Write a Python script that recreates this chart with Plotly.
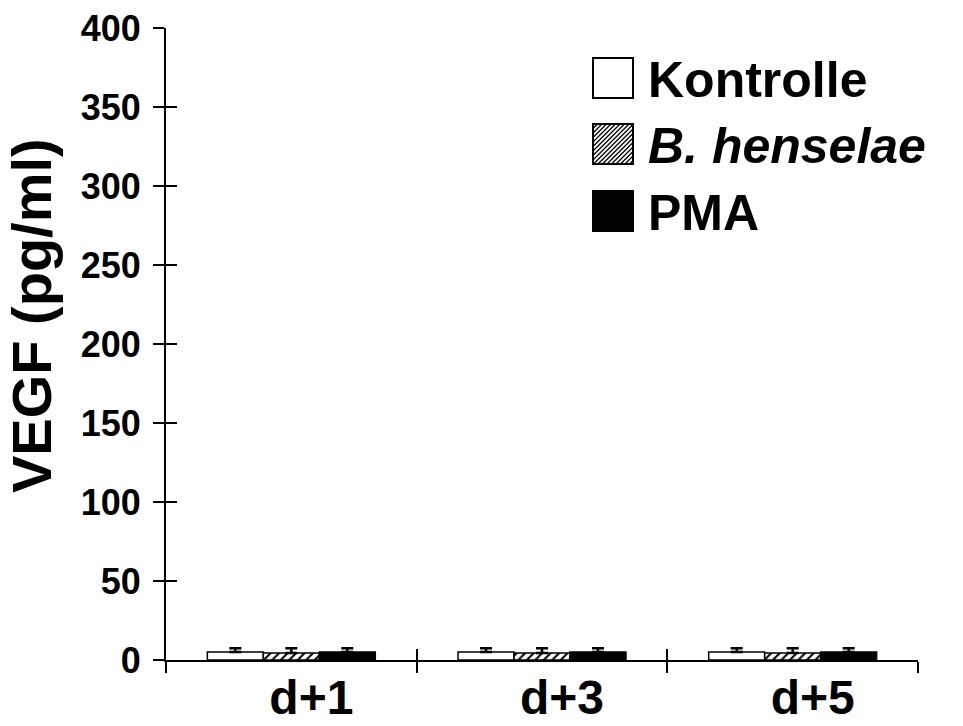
import plotly.graph_objects as go

# ---- data ----
categories = ["d+1", "d+3", "d+5"]
series_names = ["Kontrolle", "B. henselae", "PMA"]
kontrolle = [5.0, 5.0, 5.0]
henselae = [4.5, 4.5, 4.5]
pma = [5.0, 5.0, 5.0]
kontrolle_err = [2.5, 2.5, 2.5]
henselae_err = [3.0, 3.0, 3.0]
pma_err = [2.5, 2.5, 2.5]
y_ticks = [0, 50, 100, 150, 200, 250, 300, 350, 400]

FONT = "Liberation Sans, Arial, Helvetica, sans-serif"
W, H = 963, 726
L, R, T, B = 166, 918, 28, 660


def px(x):
    return (x - L) / (R - L)


def py(y):
    return (B - y) / (B - T)


fig = go.Figure()
zero = [0, 0, 0]
fig.add_trace(go.Bar(
    x=categories, y=kontrolle, name=series_names[0],
    marker=dict(color="white", line=dict(color="black", width=1.5)),
    error_y=dict(type="data", symmetric=False, array=kontrolle_err, arrayminus=zero,
                 color="black", thickness=2.5, width=6)))
fig.add_trace(go.Bar(
    x=categories, y=henselae, name=series_names[1],
    marker=dict(color="white", line=dict(color="black", width=1.5),
                pattern=dict(shape="/", fgcolor="black", bgcolor="white", size=6, solidity=0.35)),
    error_y=dict(type="data", symmetric=False, array=henselae_err, arrayminus=zero,
                 color="black", thickness=2.5, width=6)))
fig.add_trace(go.Bar(
    x=categories, y=pma, name=series_names[2],
    marker=dict(color="black", line=dict(color="black", width=1.5)),
    error_y=dict(type="data", symmetric=False, array=pma_err, arrayminus=zero,
                 color="black", thickness=2.5, width=6)))

# invisible trace on overlay axes (for crossing tick marks)
fig.add_trace(go.Scatter(x=categories, y=kontrolle, xaxis="x2", yaxis="y2",
                         mode="markers", marker=dict(opacity=0), showlegend=False,
                         hoverinfo="skip"))

fig.update_layout(
    template="none",
    width=W, height=H,
    margin=dict(l=L, r=W - R, t=T, b=H - B, pad=0, autoexpand=False),
    paper_bgcolor="white", plot_bgcolor="white",
    showlegend=False,
    barmode="group", bargap=0.33, bargroupgap=0,
    font=dict(family=FONT, color="black"),
    xaxis=dict(type="category", range=[-0.5, 2.5], showline=True, linecolor="black",
               linewidth=2, ticks="outside", tickson="boundaries", ticklen=11,
               tickwidth=2, tickcolor="black", showgrid=False, zeroline=False,
               automargin=False,
               tickfont=dict(family=FONT, size=48, weight="bold", color="black"),
               ticklabelshift=20, ticklabelstandoff=-6),
    yaxis=dict(range=[0, 400], tickvals=y_ticks, showline=True, linecolor="black",
               linewidth=2, ticks="outside", ticklen=11, tickwidth=2, tickcolor="black",
               showgrid=False, zeroline=False, automargin=False,
               tickfont=dict(family=FONT, size=36, weight="bold", color="black"),
               ticklabelstandoff=5),
    xaxis2=dict(type="category", overlaying="x", range=[-0.5, 2.5], showline=False,
                ticks="inside", tickson="boundaries", ticklen=11, tickwidth=2,
                tickcolor="black", showticklabels=False, showgrid=False, zeroline=False,
                automargin=False),
    yaxis2=dict(overlaying="y", range=[0, 400], tickvals=y_ticks, showline=False,
                ticks="inside", ticklen=11, tickwidth=2, tickcolor="black",
                showticklabels=False, showgrid=False, zeroline=False, automargin=False),
)

# y-axis title
fig.add_annotation(text="VEGF (pg/ml)", textangle=-90, xref="paper", yref="paper",
                   x=px(31), y=py(316), xanchor="center", yanchor="middle",
                   showarrow=False, font=dict(family=FONT, size=56, weight="bold", color="black"))

# ---- custom legend ----
box = 40
centers = [78, 144, 211]
bx0 = 593
fills = ["white", "hatch", "black"]
labels = ["Kontrolle", "<i>B. henselae</i>", "PMA"]
for cy, fill, lab in zip(centers, fills, labels):
    x0, x1 = bx0, bx0 + box
    y0, y1 = cy - box / 2, cy + box / 2
    if fill == "hatch":
        path = ""
        step = 4.5
        c = x0 + y0 + step
        while c < x1 + y1:
            xa = max(x0, c - y1)
            xb = min(x1, c - y0)
            if xb > xa:
                path += f"M{px(xa):.5f},{py(c - xa):.5f}L{px(xb):.5f},{py(c - xb):.5f}"
            c += step
        fig.add_shape(type="path", path=path, xref="paper", yref="paper",
                      line=dict(color="black", width=1.3))
        fig.add_shape(type="rect", xref="paper", yref="paper", x0=px(x0), x1=px(x1),
                      y0=py(y1), y1=py(y0), line=dict(color="black", width=2))
    else:
        fig.add_shape(type="rect", xref="paper", yref="paper", x0=px(x0), x1=px(x1),
                      y0=py(y1), y1=py(y0), fillcolor=fill,
                      line=dict(color="black", width=2))
    fig.add_annotation(text=lab, xref="paper", yref="paper", x=px(646), y=py(cy + 2),
                       xanchor="left", yanchor="middle", showarrow=False,
                       font=dict(family=FONT, size=50, weight="bold", color="black"))

fig.write_html("out.html")
